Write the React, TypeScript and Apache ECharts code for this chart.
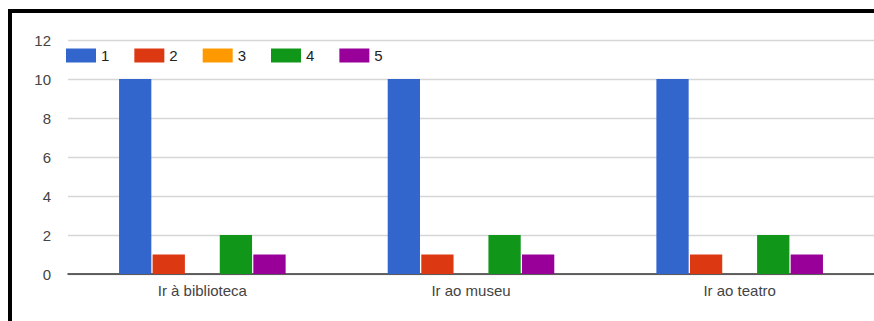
import React, { useEffect, useRef } from "react";
import * as echarts from "echarts";

const categories = ["Ir à biblioteca", "Ir ao museu", "Ir ao teatro"];
const seriesNames = ["1", "2", "3", "4", "5"];
const s1 = [10, 10, 10];
const s2 = [1, 1, 1];
const s3 = [0, 0, 0];
const s4 = [2, 2, 2];
const s5 = [1, 1, 1];
const seriesData = [s1, s2, s3, s4, s5];
const colors = ["#3366cc", "#dc3912", "#ff9900", "#109618", "#990099"];

const FONT = "'Liberation Sans', Arial, sans-serif";

export default function App() {
  const ref = useRef<HTMLDivElement>(null);
  useEffect(() => {
    if (!ref.current) return;
    const chart = echarts.init(ref.current, undefined, { renderer: "svg" });
    chart.setOption({
      animation: false,
      color: colors,
      textStyle: { fontFamily: FONT },
      legend: {
        left: 66,
        top: 48,
        padding: 0,
        itemWidth: 30,
        itemHeight: 14,
        itemGap: 25,
        icon: "rect",
        textStyle: { fontSize: 15, color: "#222", fontFamily: FONT },
        data: seriesNames,
      },
      grid: { left: 68, right: -5, top: 40, bottom: 47, containLabel: false },
      xAxis: {
        type: "category",
        data: categories,
        axisTick: { show: false },
        axisLine: { lineStyle: { color: "#333", width: 1.5 } },
        axisLabel: { color: "#444", fontSize: 15, margin: 9, fontFamily: FONT },
      },
      yAxis: {
        type: "value",
        min: 0,
        max: 12,
        interval: 2,
        axisLine: { show: false },
        axisTick: { show: false },
        splitLine: { lineStyle: { color: "#d6d6d6", width: 1.3 } },
        axisLabel: { color: "#444", fontSize: 15, margin: 17, fontFamily: FONT },
      },
      series: seriesNames.map((n, i) => ({
        name: n,
        type: "bar",
        data: seriesData[i],
        barGap: "4%",
        barCategoryGap: "38%",
        itemStyle: { color: colors[i] },
      })),
    });
    return () => chart.dispose();
  }, []);
  return (
    <>
      <div
        ref={ref}
        style={{ position: "fixed", left: 0, top: 0, width: 874, height: 321, background: "#fff" }}
      />
      <div style={{ position: "fixed", left: 8, top: 9, width: 866, height: 4, background: "#000" }} />
      <div style={{ position: "fixed", left: 8, top: 9, width: 4, height: 312, background: "#000" }} />
    </>
  );
}
